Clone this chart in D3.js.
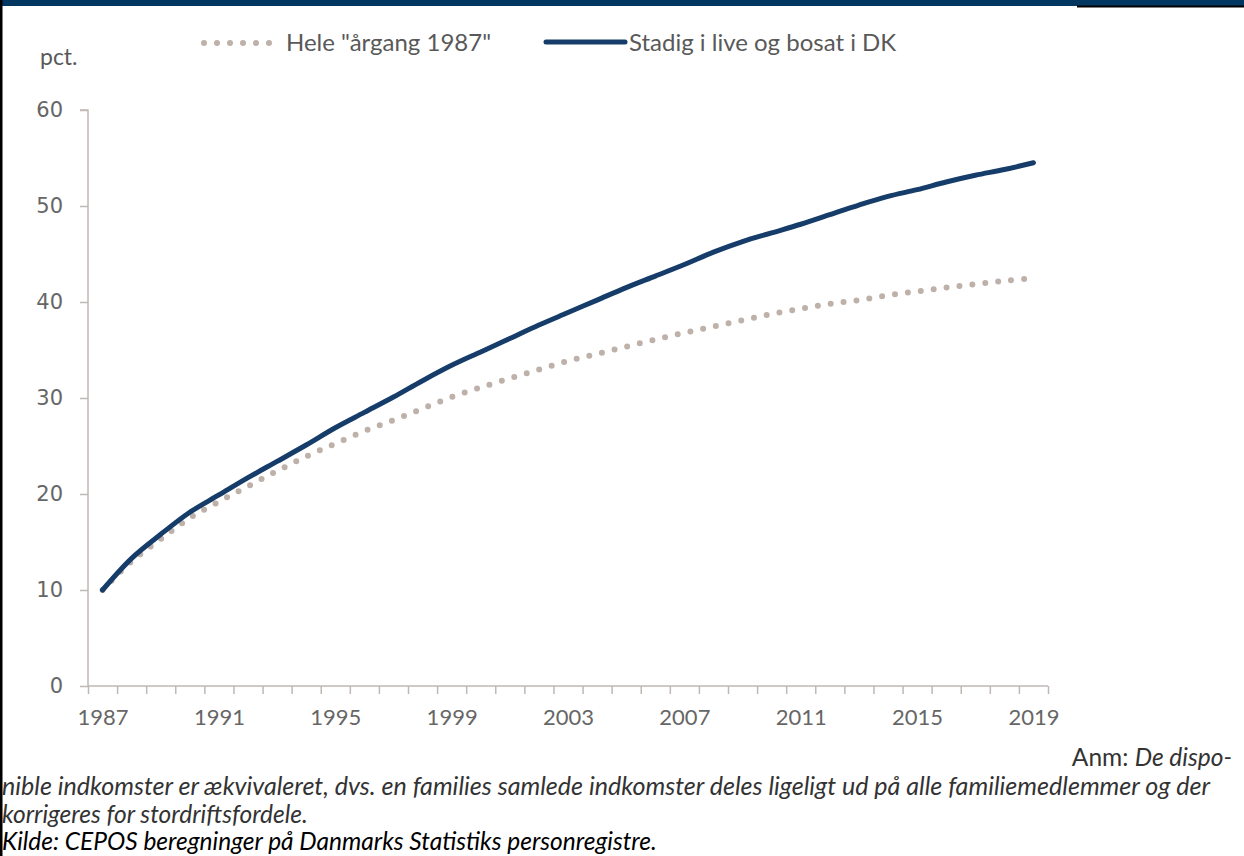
<!DOCTYPE html>
<html>
<head>
<meta charset="utf-8">
<script src="https://cdn.jsdelivr.net/npm/d3@7"></script>
<style>
  body { margin: 0; background: #fff; }
  svg { display: block; }
</style>
</head>
<body>
<svg></svg>
<script>
// data
var years = d3.range(1987, 2020)
var hele = [10.0, 13.0, 15.3, 17.5, 19.2, 20.8, 22.4, 23.9, 25.25, 26.55, 27.7, 28.9, 30.1, 31.1, 32.05, 32.95,
            33.85, 34.6, 35.35, 36.1, 36.8, 37.45, 38.1, 38.75, 39.3, 39.8, 40.2, 40.7, 41.1, 41.5, 41.85, 42.2, 42.5]
var stadig = [10.0, 13.3, 15.8, 18.1, 19.9, 21.7, 23.4, 25.1, 26.9, 28.5, 30.1, 31.8, 33.4, 34.8, 36.2, 37.6,
              38.9, 40.2, 41.5, 42.7, 43.9, 45.2, 46.3, 47.2, 48.1, 49.1, 50.1, 51.0, 51.7, 52.5, 53.2, 53.8, 54.5]
var seriesNames = ['Hele "årgang 1987"', "Stadig i live og bosat i DK"]
var yTicks = [0, 10, 20, 30, 40, 50, 60]
var xLabels = [1987, 1991, 1995, 1999, 2003, 2007, 2011, 2015, 2019]

var screen = {width: 1244, height: 856}
var margins = {top: 110, left: 88, right: 196, bottom: 170}
var width = screen.width - margins.left - margins.right
var height = screen.height - margins.top - margins.bottom

var svg = d3.select("svg")
    .attr("width", screen.width)
    .attr("height", screen.height)

// frame bits
svg.append("rect").attr("x", 0).attr("y", 0).attr("width", screen.width).attr("height", 6).attr("fill", "#00365f")
svg.append("rect").attr("x", 1077).attr("y", 5.5).attr("width", 167).attr("height", 2).attr("fill", "#000")
svg.append("rect").attr("x", 0).attr("y", 0).attr("width", 2.5).attr("height", screen.height).attr("fill", "#000")

var xScale = d3.scaleLinear()
    .domain([1986.5, 2019.5])
    .range([0, width])

var yScale = d3.scaleLinear()
    .domain([0, 60])
    .range([height, 0])

var graph = svg.append("g")
    .attr("transform", "translate(" + margins.left + "," + margins.top + ")")

var axisColor = "#bfb8b4"
var labelColor = "#666"

// y axis
var yAxis = d3.axisLeft(yScale).tickValues(yTicks).tickSize(8).tickPadding(17)
var yg = graph.append("g").call(yAxis)
yg.selectAll("path, line").attr("stroke", axisColor).attr("stroke-width", 1.5)
yg.select(".domain").attr("d", "M0," + height + "V0H-8")
yg.selectAll("text")
  .attr("fill", labelColor)
  .attr("font-family", "DejaVu Sans")
  .attr("font-size", 21)

// x axis: boundary ticks
var bounds = d3.range(1986.5, 2020, 1)
var xTickAxis = d3.axisBottom(xScale).tickValues(bounds).tickSize(8).tickFormat("")
var xg = graph.append("g").attr("transform", "translate(0," + height + ")").call(xTickAxis)
xg.selectAll("path, line").attr("stroke", axisColor).attr("stroke-width", 1.5)
xg.select(".domain").attr("d", "M0,0H" + width)

// x labels
var xLabAxis = d3.axisBottom(xScale).tickValues(xLabels).tickSize(0).tickPadding(23).tickFormat(d3.format("d"))
var xl = graph.append("g").attr("transform", "translate(0," + height + ")").call(xLabAxis)
xl.select(".domain").remove()
xl.selectAll("text")
  .attr("fill", labelColor)
  .attr("font-family", "Lato")
  .attr("font-size", 22)

var lineGenerator = d3.line()
    .x(function(d, i) { return xScale(years[i]) })
    .y(function(d) { return yScale(d) })
    .curve(d3.curveCatmullRom.alpha(0.5))

graph.append("path")
    .datum(hele)
    .attr("d", lineGenerator)
    .attr("fill", "none")
    .attr("stroke", "#bdb1a9")
    .attr("stroke-width", 6)
    .attr("stroke-linecap", "round")
    .attr("stroke-dasharray", "0,13")

graph.append("path")
    .datum(stadig)
    .attr("d", lineGenerator)
    .attr("fill", "none")
    .attr("stroke", "#163d69")
    .attr("stroke-width", 5)
    .attr("stroke-linecap", "round")

// legend
var legend = svg.append("g").attr("font-family", "Lato").attr("font-size", 24)
legend.append("line")
    .attr("x1", 204).attr("x2", 270).attr("y1", 43).attr("y2", 43)
    .attr("stroke", "#bdb1a9").attr("stroke-width", 6)
    .attr("stroke-linecap", "round").attr("stroke-dasharray", "0,13")
legend.append("text").attr("x", 286).attr("y", 51).attr("fill", "#595959").text(seriesNames[0])
legend.append("line")
    .attr("x1", 546).attr("x2", 625).attr("y1", 42).attr("y2", 42)
    .attr("stroke", "#163d69").attr("stroke-width", 5).attr("stroke-linecap", "round")
legend.append("text").attr("x", 629).attr("y", 51).attr("fill", "#595959").text(seriesNames[1])

svg.append("text")
    .attr("x", 40).attr("y", 65)
    .attr("fill", "#595959")
    .attr("font-family", "Lato").attr("font-size", 23)
    .text("pct.")

// notes
var notes = svg.append("g").attr("font-family", "Lato").attr("font-size", 24.5).attr("fill", "#333")
var t1 = notes.append("text").attr("x", 1232).attr("y", 766).attr("text-anchor", "end")
t1.append("tspan").text("Anm: ")
t1.append("tspan").attr("font-style", "italic").text("De dispo-")
notes.append("text").attr("x", 2).attr("y", 795).attr("font-style", "italic")
    .attr("textLength", 1208).attr("lengthAdjust", "spacingAndGlyphs")
    .text("nible indkomster er ækvivaleret, dvs. en families samlede indkomster deles ligeligt ud på alle familiemedlemmer og der")
notes.append("text").attr("x", 2).attr("y", 823).attr("font-style", "italic")
    .text("korrigeres for stordriftsfordele.")
notes.append("text").attr("x", 2).attr("y", 850).attr("font-style", "italic").attr("fill", "#000")
    .text("Kilde: CEPOS beregninger på Danmarks Statistiks personregistre.")
</script>
</body>
</html>
